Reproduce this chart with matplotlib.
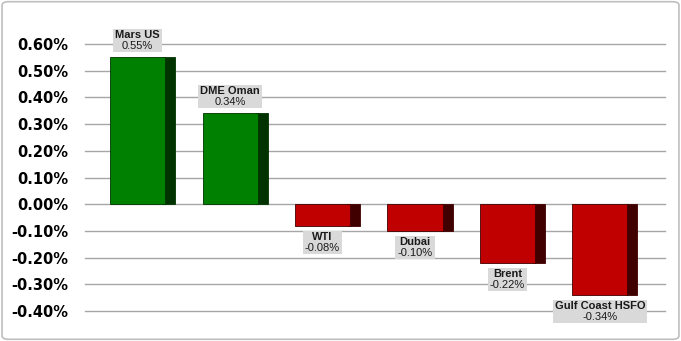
import matplotlib
matplotlib.use("Agg")
import matplotlib.pyplot as plt
from matplotlib.patches import FancyBboxPatch, Rectangle
from matplotlib.transforms import Bbox

categories = ["Mars US", "DME Oman", "WTI", "Dubai", "Brent", "Gulf Coast HSFO"]
values = [0.55, 0.34, -0.08, -0.10, -0.22, -0.34]
yticks = [-0.40, -0.30, -0.20, -0.10, 0.00, 0.10, 0.20, 0.30, 0.40, 0.50, 0.60]

fig = plt.figure(figsize=(6.81, 3.41), dpi=100)
fig.patches.append(FancyBboxPatch((0.003, 0.005), 0.994, 0.99, boxstyle="round,pad=0,rounding_size=0.01",
                                  transform=fig.transFigure, fill=False, edgecolor="#BFBFBF", linewidth=1.2))

ax = fig.add_axes([85 / 681, 30 / 341, 580 / 681, 267 / 341])
ax.set_ylim(-0.40, 0.60)
ax.set_xlim(-0.568, 5.703)
ax.set_yticks(yticks)
ax.set_yticklabels([f"{v:.2f}%" for v in yticks], fontsize=10.5, fontweight="bold", family="DejaVu Sans")
ax.set_xticks([])
for s in ax.spines.values():
    s.set_visible(False)
ax.tick_params(axis="y", length=0, pad=12)
ax.grid(axis="y", color="#A6A6A6", linewidth=1.0)
for gl in ax.get_ygridlines():
    gl.set_clip_on(False)
ax.set_axisbelow(True)

fw = 0.595
dw = 0.108
x = list(range(len(categories)))
front_colors = ["#008000" if v >= 0 else "#C00000" for v in values]
side_colors = ["#003300" if v >= 0 else "#400000" for v in values]

ax.bar([xi + fw / 2 + dw / 2 - 0.01 for xi in x], values, width=dw + 0.02, color=side_colors,
       edgecolor=side_colors, linewidth=0.6, zorder=2)
ax.bar(x, values, width=fw, color=front_colors, edgecolor=side_colors, linewidth=0.6, zorder=3)

fs = 8
gap = 6
lh = 11
pairs = []
for xi, v, c in zip(x, values, categories):
    common = dict(xy=(xi, v), textcoords="offset pixels", ha="center",
                  fontsize=fs, family="Liberation Sans", color="#1a1a1a", zorder=6)
    if v >= 0:
        t1 = ax.annotate(c, xytext=(0, gap + lh), va="bottom", fontweight="bold", **common)
        t2 = ax.annotate(f"{v:.2f}%", xytext=(0, gap), va="bottom", **common)
    else:
        t1 = ax.annotate(c, xytext=(0, -gap), va="top", fontweight="bold", **common)
        t2 = ax.annotate(f"{v:.2f}%", xytext=(0, -gap - lh), va="top", **common)
    pairs.append((t1, t2))

fig.canvas.draw()
r = fig.canvas.get_renderer()
inv = fig.transFigure.inverted()
for t1, t2 in pairs:
    b = Bbox.union([t1.get_window_extent(r), t2.get_window_extent(r)])
    x0, y0, x1, y1 = b.x0 - 2, b.y0 - 1, b.x1 + 2, b.y1 + 1
    (fx0, fy0), (fx1, fy1) = inv.transform([(x0, y0), (x1, y1)])
    ax.add_patch(Rectangle((fx0, fy0), fx1 - fx0, fy1 - fy0, transform=fig.transFigure,
                           facecolor="#D9D9D9", edgecolor="none", zorder=5, clip_on=False))

fig.savefig("out.png", dpi=100)
